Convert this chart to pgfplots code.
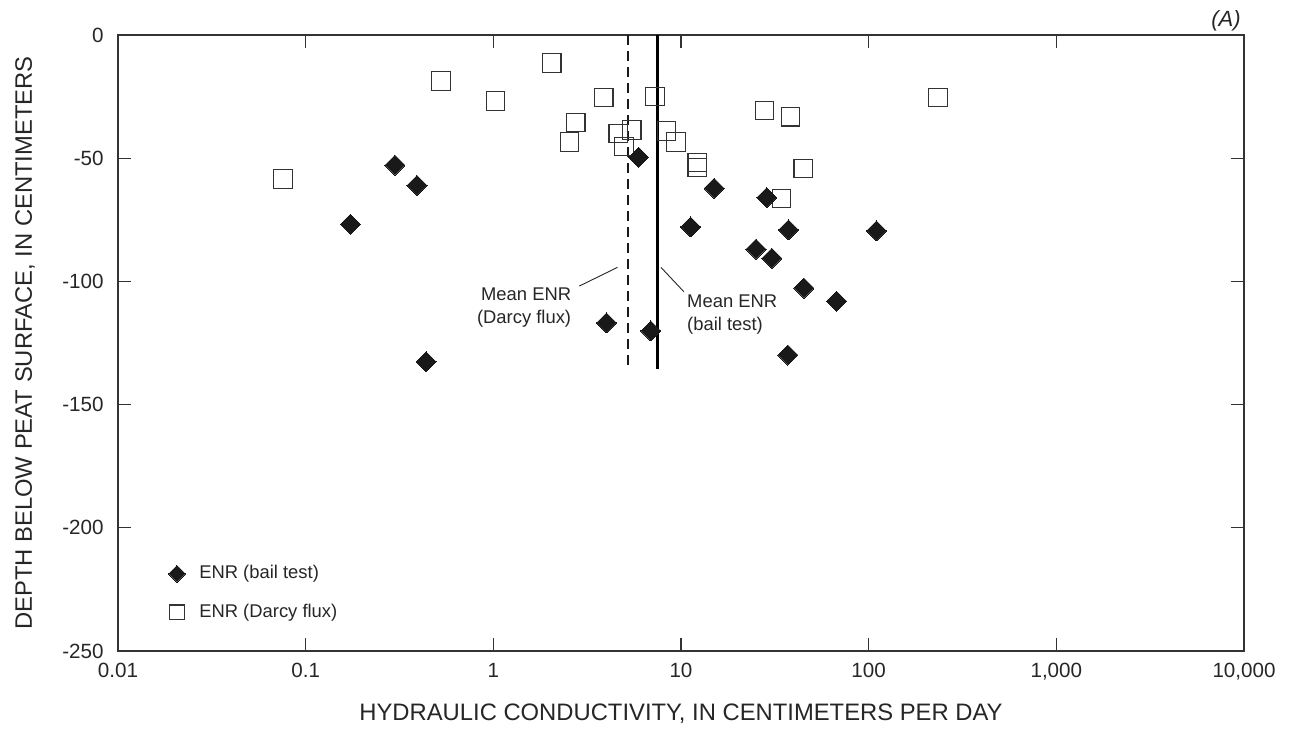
\documentclass[border=0pt]{standalone}
\usepackage{fontspec}
\setmainfont{Liberation Sans}
\usepackage{pgfplots}
\pgfplotsset{compat=1.18}

\pgfplotstableread{
x y
0.0757 -58.4
0.526 -18.7
1.03 -26.8
2.05 -11.4
3.88 -25.3
7.26 -25.0
2.75 -35.6
2.54 -43.4
4.63 -39.9
5.47 -38.6
4.96 -45.3
8.38 -39.0
9.4 -43.4
12.2 -51.7
12.2 -53.7
27.9 -30.7
38.4 -33.2
44.8 -54.1
34.4 -66.4
234 -25.3
}\darcy

\pgfplotstableread{
x y
0.299 -52.8
0.392 -61.0
0.173 -76.8
0.438 -132.6
4.01 -116.8
5.94 -49.6
6.91 -120.1
11.25 -77.9
15.0 -62.2
25.1 -86.9
28.6 -66.0
30.5 -90.6
37.4 -79.1
37.1 -129.9
45.2 -102.7
67.4 -108.0
110 -79.5
}\bail

\begin{document}
\begin{tikzpicture}
\begin{axis}[
  name=ax,
  scale only axis, width=563pt, height=308pt,
  xmode=log, xmin=0.01, xmax=10000, ymin=-250, ymax=0,
  xtick={0.01,0.1,1,10,100,1000,10000},
  xticklabels={0.01,0.1,1,10,100,{1,000},{10,000}},
  ytick={-250,-200,-150,-100,-50,0},
  xminorticks=false, yminorticks=false,
  tick align=inside, major tick length=6.3pt,
  axis line style={black!80, line width=0.6pt},
  every tick/.style={black!80, line width=0.6pt},
  /pgf/number format/assume math mode=true,
  ticklabel style={font=\fontsize{10.3}{12}\selectfont, text=black!85},
  xticklabel style={inner sep=0pt, anchor=north, yshift=-6pt},
  yticklabel style={inner sep=0pt, anchor=east, xshift=-7pt},
  xlabel={HYDRAULIC CONDUCTIVITY, IN CENTIMETERS PER DAY},
  ylabel={DEPTH BELOW PEAT SURFACE, IN CENTIMETERS},
  label style={font=\fontsize{11.9}{14}\selectfont, text=black!85},
  xlabel style={at={(axis description cs:0.5,-0.1015)}, anchor=center},
  ylabel style={at={(axis description cs:-0.0826,0.5)}, anchor=center},
  legend image code/.code={\draw[#1] plot coordinates {(0pt,0pt)};},
  legend style={draw=none, fill=none, inner sep=0pt,
    at={(axis description cs:0.0446,0.1396)}, anchor=north west,
    font=\fontsize{9.2}{11}\selectfont, text=black!85,
    row sep=10.9pt, column sep=7pt,
    cells={anchor=west}, nodes={inner sep=0pt}},
]
\addplot[only marks, mark=square, mark size=4.6pt, mark options={draw=black!80, line width=0.55pt}, forget plot] table[x=x,y=y] {\darcy};
\addplot[only marks, mark=square*, mark size=3.54pt, mark options={rotate=45, fill=black!90, draw=black!90, line width=0pt}, forget plot] table[x=x,y=y] {\bail};

\addplot[black!90, line width=0.9pt, dash pattern=on 5pt off 3pt, forget plot] coordinates {(5.23,0) (5.23,-135.6)};
\addplot[black, line width=1.05pt, forget plot] coordinates {(7.50,0) (7.50,-135.6)};

\addlegendimage{only marks, mark=square*, mark size=2.95pt, mark options={rotate=45, fill=black!90, draw=black!90, line width=0pt}}
\addlegendentry{ENR (bail test)}
\addlegendimage{only marks, mark=square, mark size=3.55pt, mark options={draw=black!80, line width=0.55pt}}
\addlegendentry{ENR (Darcy flux)}

\draw[black!85, line width=0.45pt] (axis cs:2.87,-101.9) -- (axis cs:4.59,-94.3);
\draw[black!85, line width=0.45pt] (axis cs:7.82,-94.3) -- (axis cs:10.36,-104.2);
\node[anchor=east, align=right, inner sep=0pt, text=black!85, font=\fontsize{9.2}{11.5}\selectfont] at (axis cs:2.61,-110.6) {Mean ENR\\(Darcy flux)};
\node[anchor=west, align=left, inner sep=0pt, text=black!85, font=\fontsize{9.2}{11.5}\selectfont] at (axis cs:10.74,-113.5) {Mean ENR\\(bail test)};
\end{axis}
\node[anchor=south east, inner sep=0pt, text=black!85, font=\itshape\fontsize{11}{13}\selectfont] at ([xshift=-1.5pt,yshift=2pt]ax.north east) {(A)};
\pgfresetboundingbox
\path[use as bounding box] ([xshift=-59pt,yshift=-39.5pt]ax.south west) rectangle ([xshift=22.5pt,yshift=17.5pt]ax.north east);
\end{tikzpicture}
\end{document}
